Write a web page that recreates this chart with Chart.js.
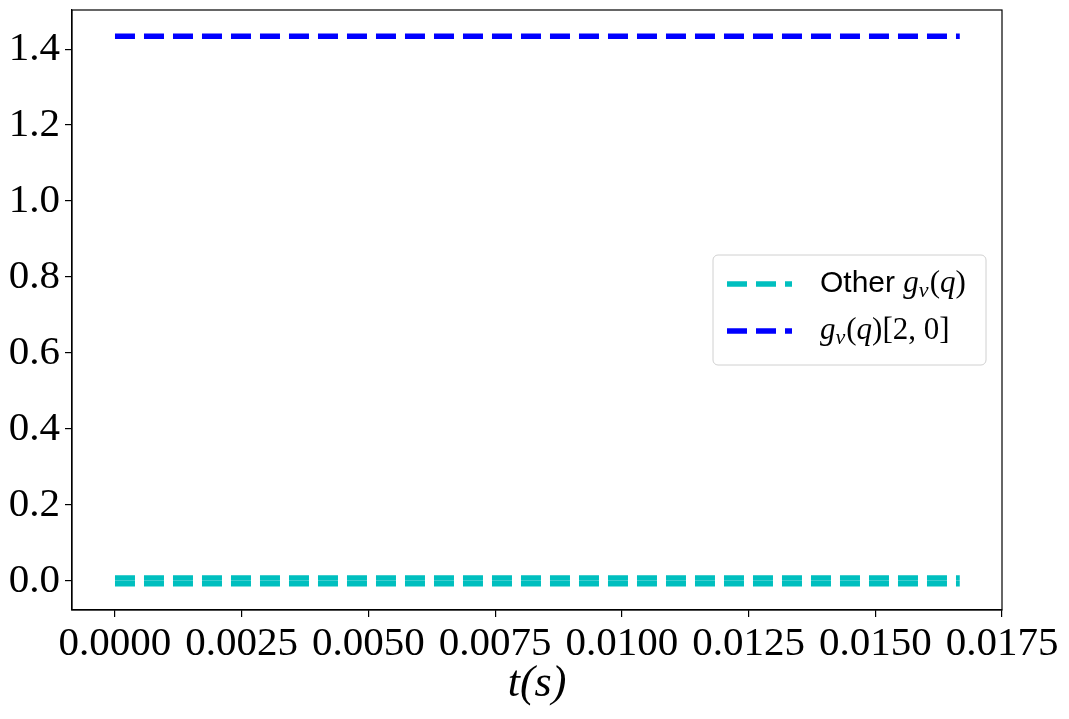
<!DOCTYPE html>
<html>
<head>
<meta charset="utf-8">
<script src="https://cdn.jsdelivr.net/npm/chart.js@4/dist/chart.umd.min.js"></script>
<style>
  html, body { margin: 0; padding: 0; background: #fff; }
  #wrap { width: 1069px; height: 719px; }
</style>
</head>
<body>
<div id="wrap"><canvas id="chart" width="1069" height="719"></canvas></div>
<script>
// time samples (s), one sixtieth of a second
const times = [0, 0.0041667, 0.0083333, 0.0125, 0.0166667];
// the other g_v(q) entries sit just above and below zero
const otherUpper = [0.0075, 0.0075, 0.0075, 0.0075, 0.0075];
const otherLower = [-0.0075, -0.0075, -0.0075, -0.0075, -0.0075];
const g20 = [1.434, 1.434, 1.434, 1.434, 1.434];

const xTicks = [0, 0.0025, 0.005, 0.0075, 0.01, 0.0125, 0.015, 0.0175];
const yTicks = [0, 0.2, 0.4, 0.6, 0.8, 1.0, 1.2, 1.4];

const cyan = '#00bfbf';
const blue = '#0000ff';
const dash = [20, 9];

const serif = '"Liberation Serif", "DejaVu Serif", serif';
const sans = '"Liberation Sans", "DejaVu Sans", sans-serif';

// legend entries, written as pieces so the math parts can be italic
const legendItems = [
    { color: cyan, parts: [['Other ', 'sans'], ['g', 'it'], ['v', 'sub'], ['(', 'rm'], ['q', 'it'], [')', 'rm']] },
    { color: blue, parts: [['g', 'it'], ['v', 'sub'], ['(', 'rm'], ['q', 'it'], [')', 'rm'], ['[2, 0]', 'rm']] }
];

function toPoints(xs, ys) {
    return xs.map((x, i) => ({ x: x, y: ys[i] }));
}

const framePlugin = {
    id: 'frame',
    afterDraw(chart) {
        const ctx = chart.ctx;
        const a = chart.chartArea;
        ctx.save();
        ctx.strokeStyle = '#000';
        ctx.lineWidth = 1.2;
        ctx.strokeRect(a.left, a.top, a.right - a.left, a.bottom - a.top);
        ctx.restore();
    }
};

const mathLegend = {
    id: 'mathLegend',
    afterDraw(chart) {
        const ctx = chart.ctx;
        const a = chart.chartArea;
        const w = 273, h = 110;
        const bx = a.right - 16 - w;
        const by = (a.top + a.bottom) / 2 - h / 2;
        ctx.save();
        ctx.beginPath();
        ctx.roundRect(bx, by, w, h, 5);
        ctx.fillStyle = 'rgba(255,255,255,0.8)';
        ctx.fill();
        ctx.strokeStyle = '#d0d0d0';
        ctx.lineWidth = 1;
        ctx.stroke();

        legendItems.forEach((item, i) => {
            const y = by + 29 + i * 47;
            ctx.beginPath();
            ctx.setLineDash(dash);
            ctx.lineWidth = 5.5;
            ctx.strokeStyle = item.color;
            ctx.moveTo(bx + 14, y);
            ctx.lineTo(bx + 79, y);
            ctx.stroke();
            ctx.setLineDash([]);

            let x = bx + 107;
            ctx.fillStyle = '#000';
            ctx.textBaseline = 'middle';
            ctx.textAlign = 'left';
            item.parts.forEach(([txt, kind]) => {
                let dy = 0;
                if (kind === 'sans') ctx.font = '30px ' + sans;
                else if (kind === 'it') ctx.font = 'italic 31px ' + serif;
                else if (kind === 'sub') { ctx.font = 'italic 22px ' + serif; dy = 7; }
                else ctx.font = '31px ' + serif;
                ctx.fillText(txt, x, y + dy);
                x += ctx.measureText(txt).width + (kind === 'sub' ? 1 : 0);
            });
        });
        ctx.restore();
    }
};

new Chart(document.getElementById('chart'), {
    type: 'line',
    data: {
        datasets: [
            { label: 'Other', data: toPoints(times, otherUpper), borderColor: cyan },
            { label: 'Other', data: toPoints(times, otherLower), borderColor: cyan },
            { label: 'g20', data: toPoints(times, g20), borderColor: blue }
        ].map(d => Object.assign(d, {
            borderWidth: 5.5,
            borderDash: dash,
            pointRadius: 0,
            fill: false,
            tension: 0
        }))
    },
    options: {
        responsive: false,
        animation: false,
        layout: { padding: { top: 10, right: 67, left: 0, bottom: 0 } },
        plugins: {
            legend: { display: false },
            tooltip: { enabled: false }
        },
        scales: {
            x: {
                type: 'linear',
                min: -0.000848,
                max: 0.0175,
                afterBuildTicks: s => { s.ticks = xTicks.map(v => ({ value: v })); },
                afterFit: s => { s.height = 109; },
                grid: { drawOnChartArea: false, tickLength: 7, color: '#000', lineWidth: 1.2 },
                border: { color: '#000', width: 1.2 },
                ticks: {
                    color: '#000',
                    padding: 3,
                    maxRotation: 0,
                    autoSkip: false,
                    font: { family: serif, size: 41 },
                    callback: v => v.toFixed(4)
                },
                title: {
                    display: true,
                    text: 't(s)',
                    color: '#000',
                    font: { family: serif, size: 44, style: 'italic' },
                    padding: { top: 0, bottom: 8 }
                }
            },
            y: {
                type: 'linear',
                min: -0.0765,
                max: 1.503,
                afterBuildTicks: s => { s.ticks = yTicks.map(v => ({ value: v })); },
                afterFit: s => { s.width = 72; s.paddingTop = 0; s.paddingBottom = 0; },
                grid: { drawOnChartArea: false, tickLength: 7, color: '#000', lineWidth: 1.2 },
                border: { color: '#000', width: 1.2 },
                ticks: {
                    color: '#000',
                    padding: 5,
                    autoSkip: false,
                    font: { family: serif, size: 41 },
                    callback: v => v.toFixed(1)
                }
            }
        }
    },
    plugins: [framePlugin, mathLegend]
});
</script>
</body>
</html>
